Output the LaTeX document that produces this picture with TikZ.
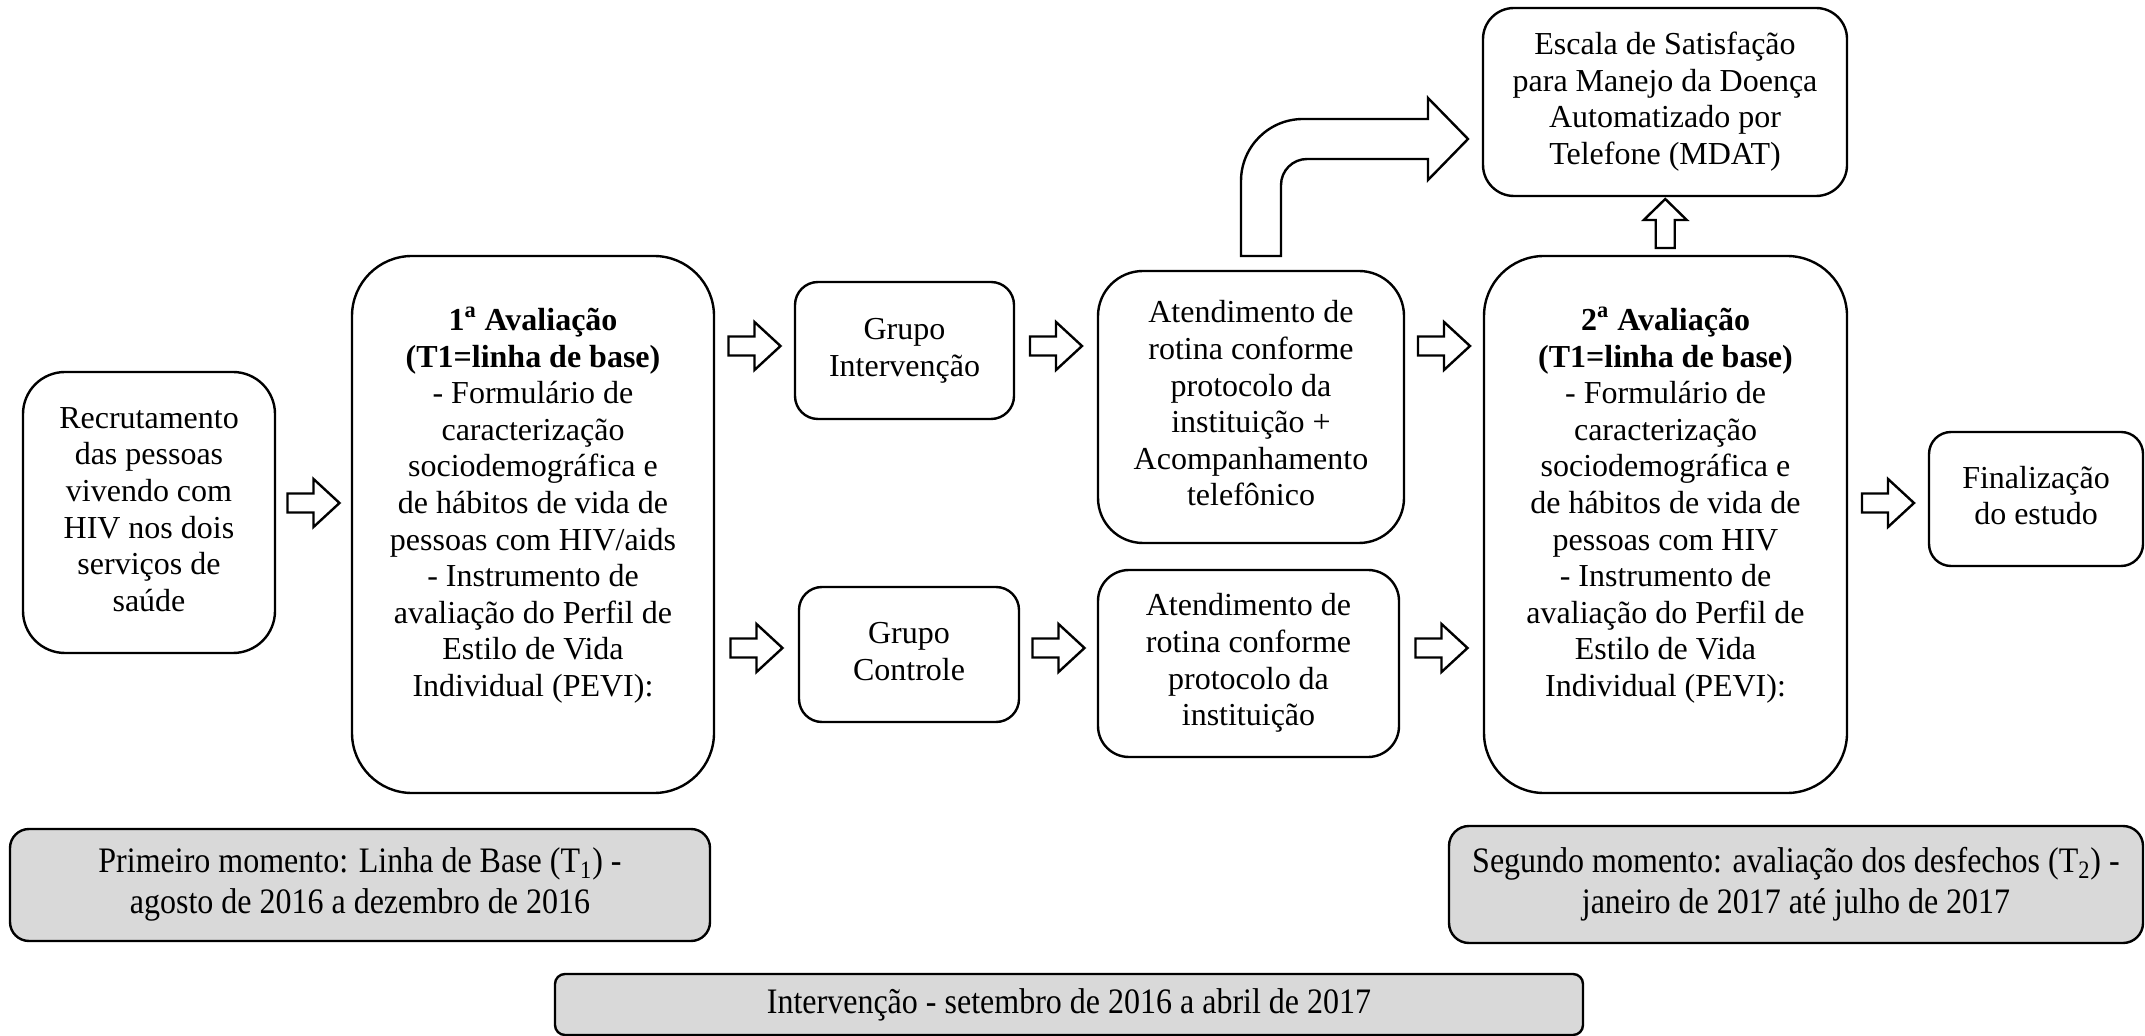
\documentclass[tikz,border=0pt]{standalone}
\usepackage{fontspec}
\setmainfont{Liberation Serif}[Ligatures=TeX]
\newfontfamily\tnr{Liberation Serif}[Ligatures=TeX]
\usepackage{graphicx}
\usetikzlibrary{calc}
\definecolor{boxgray}{HTML}{D9D9D9}
\tikzset{
  box/.style={draw=black, line width=1.2pt, align=center, inner sep=0pt, fill=white,
    font=\tnr\fontsize{16}{18.3}\selectfont},
  graybox/.style={box, fill=boxgray},
  blk/.style={draw=black, line width=1.2pt, fill=white, line join=miter},
  rarr/.pic={\draw[blk] (-26,-9.5) -- (0,-9.5) -- (0,-24) -- (26,0) -- (0,24) -- (0,9.5) -- (-26,9.5) -- cycle;},
  uarr/.pic={\draw[blk] (-9.5,22) -- (-9.5,-6) -- (-21.5,-6) -- (0,-27) -- (21.5,-6) -- (9.5,-6) -- (9.5,22) -- cycle;}
}
\newcommand{\graytext}[2]{\scalebox{1}[1.12]{\begin{tabular}{@{}c@{}}#1\\#2\end{tabular}}}
\newcommand{\boxtext}[1]{\scalebox{1}[1.0001]{\begin{tabular}{@{}c@{}}#1\end{tabular}}}
\begin{document}
\begin{tikzpicture}[x=0.5pt,y=-0.5pt]
\useasboundingbox (0,0) rectangle (2145,1036);

% main boxes
\node[box, minimum width=126pt, minimum height=140.5pt, rounded corners=21pt] (rec) at (149,512.5)
  {\boxtext{Recrutamento\\das pessoas\\vivendo com\\HIV nos dois\\serviços de\\saúde}};
\node[box, minimum width=181pt, minimum height=268.5pt, rounded corners=30pt] (av1) at (533,524.5)
  {\boxtext{\textbf{1\textsuperscript{a} Avaliação}\\\textbf{(T1=linha de base)}\\- Formulário de\\caracterização\\sociodemográfica e\\de hábitos de vida de\\pessoas com HIV/aids\\- Instrumento de\\avaliação do Perfil de\\Estilo de Vida\\Individual (PEVI):\\\mbox{}}};
\node[box, minimum width=109.5pt, minimum height=68.5pt, rounded corners=11.5pt] (gi) at (904.5,350.5)
  {\boxtext{Grupo\\Intervenção}};
\node[box, minimum width=110pt, minimum height=67.5pt, rounded corners=11.5pt] (gc) at (909,654.5)
  {\boxtext{Grupo\\Controle}};
\node[box, minimum width=153pt, minimum height=136pt, rounded corners=22.5pt] (ati) at (1251,407)
  {\boxtext{Atendimento de\\rotina conforme\\protocolo da\\instituição +\\Acompanhamento\\telefônico}};
\node[box, minimum width=150.5pt, minimum height=93.5pt, rounded corners=15.5pt] (atc) at (1248.5,663.5)
  {\boxtext{Atendimento de\\rotina conforme\\protocolo da\\instituição}};
\node[box, minimum width=181.5pt, minimum height=268.5pt, rounded corners=30pt] (av2) at (1665.5,524.5)
  {\boxtext{\textbf{2\textsuperscript{a} Avaliação}\\\textbf{(T1=linha de base)}\\- Formulário de\\caracterização\\sociodemográfica e\\de hábitos de vida de\\pessoas com HIV\\- Instrumento de\\avaliação do Perfil de\\Estilo de Vida\\Individual (PEVI):\\\mbox{}}};
\node[box, minimum width=182pt, minimum height=94pt, rounded corners=15.5pt] (esc) at (1665,102)
  {\boxtext{Escala de Satisfação\\para Manejo da Doença\\Automatizado por\\Telefone (MDAT)}};
\node[box, minimum width=107pt, minimum height=67pt, rounded corners=11pt] (fin) at (2036,499)
  {\boxtext{Finalização\\do estudo}};

% gray period boxes
\node[graybox, minimum width=350pt, minimum height=56pt, rounded corners=9.5pt] (g1) at (360,885)
  {\graytext{Primeiro momento: Linha de Base (T\textsubscript{1}) -}{agosto de 2016 a dezembro de 2016}};
\node[graybox, minimum width=347pt, minimum height=58.5pt, rounded corners=10pt] (g2) at (1796,884.5)
  {\graytext{Segundo momento: avaliação dos desfechos (T\textsubscript{2}) -}{janeiro de 2017 até julho de 2017}};
\node[graybox, minimum width=514pt, minimum height=30.5pt, rounded corners=5pt] (g3) at (1069,1004.5)
  {\scalebox{1}[1.12]{Intervenção - setembro de 2016 a abril de 2017}};

% block arrows
\coordinate (m1) at ($(rec.east)!.5!(av1.west)$);
\coordinate (m2) at ($(av1.east)!.5!(gi.west)$);
\coordinate (m3) at ($(av1.east)!.5!(gc.west)$);
\coordinate (m4) at ($(gi.east)!.5!(ati.west)$);
\coordinate (m5) at ($(gc.east)!.5!(atc.west)$);
\coordinate (m6) at ($(ati.east)!.5!(av2.west)$);
\coordinate (m7) at ($(atc.east)!.5!(av2.west)$);
\coordinate (m8) at ($(av2.east)!.5!(fin.west)$);
\coordinate (mu) at ($(esc.south)!.5!(av2.north)$);
\pic at (m1 |- 0,503) {rarr};
\pic at (m2 |- 0,346) {rarr};
\pic at (m3 |- 0,648) {rarr};
\pic at (m4 |- 0,346) {rarr};
\pic at (m5 |- 0,648) {rarr};
\pic at (m6 |- 0,346) {rarr};
\pic at (m7 |- 0,648) {rarr};
\pic at (m8 |- 0,503) {rarr};
\pic at (mu) {uarr};

% bent arrow from ati to esc
\draw[blk] (1241,256) [rounded corners=31pt]-- (1241,119) [sharp corners]-- (1428,119)
  -- (1428,98) -- (1468,139) -- (1428,180) -- (1428,159)
  [rounded corners=13pt]-- (1281,159) [sharp corners]-- (1281,256) -- cycle;
\end{tikzpicture}
\end{document}
